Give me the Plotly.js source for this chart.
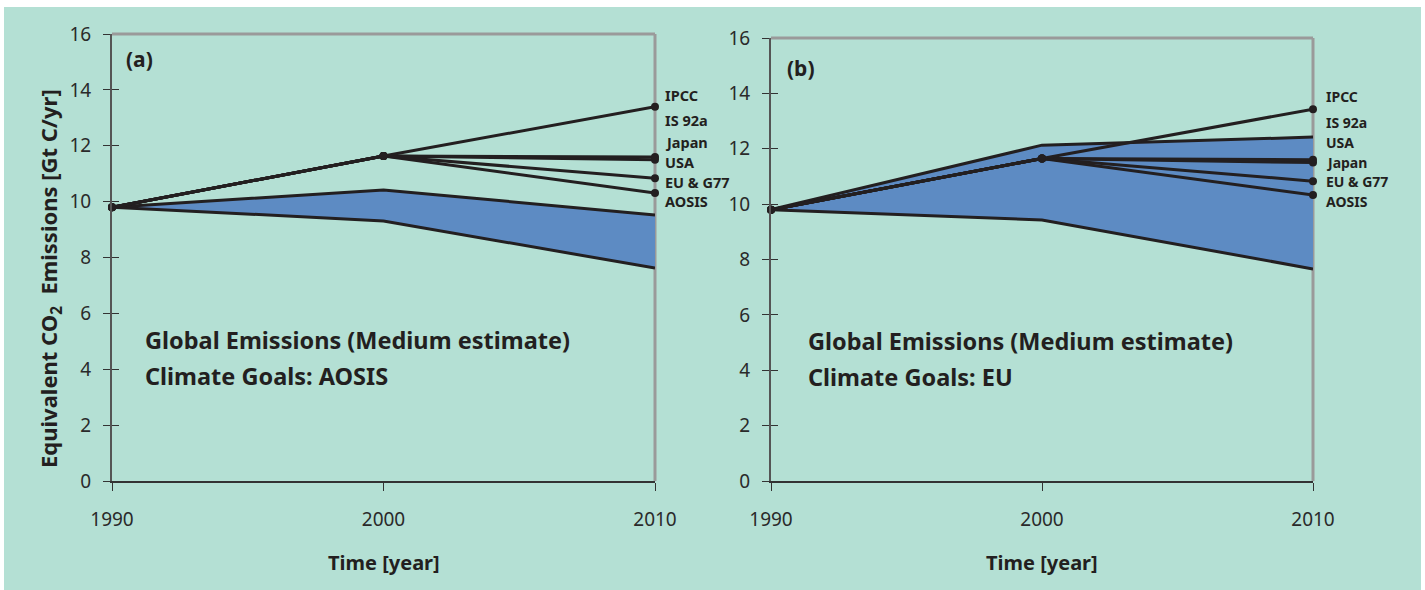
<!DOCTYPE html>
<html><head><meta charset="utf-8">
<script src="https://cdn.plot.ly/plotly-3.0.1.min.js"></script>
<style>html,body{margin:0;padding:0;background:#fff}#chart{width:1425px;height:590px}</style>
</head><body><div id="chart"></div>
<script>
// ---- data ----
const years = [1990, 2000, 2010];
const xTickLabels = ['1990', '2000', '2010'];
const yTickVals = [0, 2, 4, 6, 8, 10, 12, 14, 16];

// Panel (a): Climate goals AOSIS
const aBandLower = [9.8, 9.31, 7.62];
const aBandUpper = [9.8, 10.42, 9.52];
const aIPCC  = [9.8, 11.63, 13.4];
const aJapan = [9.8, 11.63, 11.6];
const aUSA   = [9.8, 11.63, 11.5];
const aEU    = [9.8, 11.63, 10.84];
const aAOSIS = [9.8, 11.63, 10.31];
const aLabels = ['IPCC', 'IS 92a', 'Japan', 'USA', 'EU &amp; G77', 'AOSIS'];

// Panel (b): Climate goals EU
const bBandLower = [9.8, 9.43, 7.66];
const bBandUpper = [9.8, 12.13, 12.42];
const bIPCC  = [9.8, 11.65, 13.43];
const bUSA   = [9.8, 11.65, 11.6];
const bJapan = [9.8, 11.65, 11.5];
const bEU    = [9.8, 11.65, 10.83];
const bAOSIS = [9.8, 11.65, 10.33];
const bLabels = ['IPCC', 'IS 92a', 'USA', 'Japan', 'EU &amp; G77', 'AOSIS'];

// ---- styles / layout positions ----
const BG = '#b4e0d4', FILL = '#5d8bc3', INK = '#231f20';
const BOLD = 'Noto Sans, DejaVu Sans, sans-serif';
const NUM = 'Noto Sans, DejaVu Sans, sans-serif';
const aLabelY = [13.82, 12.92, 12.14, 11.42, 10.72, 10.04];
const bLabelY = [13.87, 12.96, 12.22, 11.52, 10.80, 10.10];

function band(lo, hi, xa, ya) {
  return [
    {x: years, y: lo, xaxis: xa, yaxis: ya, mode: 'lines', line: {color: INK, width: 3}, hoverinfo: 'skip', showlegend: false},
    {x: years, y: hi, xaxis: xa, yaxis: ya, mode: 'lines', fill: 'tonexty', fillcolor: FILL, line: {color: INK, width: 3}, hoverinfo: 'skip', showlegend: false}
  ];
}
function goal(vals, xa, ya) {
  return {x: years, y: vals, xaxis: xa, yaxis: ya, mode: 'lines+markers', cliponaxis: false,
    line: {color: INK, width: 3}, marker: {color: INK, size: 8}, showlegend: false};
}

const traces = [
  ...band(aBandLower, aBandUpper, 'x', 'y'),
  goal(aAOSIS, 'x', 'y'), goal(aEU, 'x', 'y'), goal(aUSA, 'x', 'y'), goal(aJapan, 'x', 'y'), goal(aIPCC, 'x', 'y'),
  ...band(bBandLower, bBandUpper, 'x2', 'y2'),
  goal(bAOSIS, 'x2', 'y2'), goal(bEU, 'x2', 'y2'), goal(bJapan, 'x2', 'y2'), goal(bUSA, 'x2', 'y2'), goal(bIPCC, 'x2', 'y2'),
  {x: [], y: [], xaxis: 'x', yaxis: 'y3', showlegend: false},
  {x: [], y: [], xaxis: 'x2', yaxis: 'y4', showlegend: false}
];

const W = 1425, H = 590;
const xdomA = [112 / W, 655 / W], xdomB = [771 / W, 1313 / W];
const ydomA = [1 - 481 / H, 1 - 34 / H], ydomB = [1 - 481 / H, 1 - 38 / H];

function xaxis(dom, anchor) {
  return {domain: dom, anchor: anchor, range: [1990, 2010], tickvals: years, ticktext: xTickLabels,
    ticks: 'outside', ticklen: 8, tickwidth: 1, tickcolor: '#333', showgrid: false, zeroline: false,
    showline: true, linecolor: '#333', linewidth: 2, ticklabelstandoff: 12,
    tickfont: {family: NUM, size: 19, color: '#2a2a2a'}};
}
function yaxis(dom, anchor) {
  return {domain: dom, anchor: anchor, range: [0, 16], tickvals: yTickVals,
    ticks: 'outside', ticklen: 7, tickwidth: 1, tickcolor: '#333', showgrid: false, zeroline: false,
    showline: true, linecolor: '#555', linewidth: 2, ticklabelstandoff: 8,
    tickfont: {family: NUM, size: 19, color: '#2a2a2a'}};
}
function yinner(over, anchor) {
  return {overlaying: over, anchor: anchor, range: [0, 16], tickvals: yTickVals, ticks: 'inside', ticklen: 7,
    tickwidth: 1, tickcolor: '#333', showticklabels: false, showgrid: false, zeroline: false, showline: false};
}

const annotations = [];
aLabels.forEach((t, i) => annotations.push({xref: 'x', yref: 'y', x: 2010, y: aLabelY[i], text: '<b>' + t + '</b>',
  xanchor: 'left', xshift: 9, borderpad: 0, showarrow: false, font: {family: BOLD, size: 14.5, color: INK}}));
bLabels.forEach((t, i) => annotations.push({xref: 'x2', yref: 'y2', x: 2010, y: bLabelY[i], text: '<b>' + t + '</b>',
  xanchor: 'left', xshift: 12, borderpad: 0, showarrow: false, font: {family: BOLD, size: 14, color: INK}}));
const boldTxt = (xref, yref, x, y, text, size) => ({xref, yref, x, y, text: '<b>' + text + '</b>', showarrow: false,
  xanchor: 'left', yanchor: 'middle', font: {family: BOLD, size: size, color: INK}});
annotations.push(boldTxt('x domain', 'y domain', 0.022, 0.943, '(a)', 21));
annotations.push(boldTxt('x2 domain', 'y2 domain', 0.026, 0.932, '(b)', 21));
annotations.push(boldTxt('x domain', 'y domain', 0.057, 0.315, 'Global Emissions (Medium estimate)', 23.5));
annotations.push(boldTxt('x domain', 'y domain', 0.057, 0.234, 'Climate Goals: AOSIS', 23.5));
annotations.push(boldTxt('x2 domain', 'y2 domain', 0.064, 0.317, 'Global Emissions (Medium estimate)', 23.5));
annotations.push(boldTxt('x2 domain', 'y2 domain', 0.064, 0.234, 'Climate Goals: EU', 23.5));
annotations.push({xref: 'x domain', yref: 'paper', x: 0.5, y: 1 - 562 / H, text: '<b>Time [year]</b>', showarrow: false,
  yanchor: 'middle', font: {family: BOLD, size: 20, color: INK}});
annotations.push({xref: 'x2 domain', yref: 'paper', x: 0.5, y: 1 - 562 / H, text: '<b>Time [year]</b>', showarrow: false,
  yanchor: 'middle', font: {family: BOLD, size: 20, color: INK}});
annotations.push({xref: 'paper', yref: 'paper', x: 50 / W, y: 1 - 279 / H, textangle: -90,
  text: '<b>Equivalent CO<sub>2</sub>  Emissions [Gt C/yr]</b>', showarrow: false, xanchor: 'center', yanchor: 'middle',
  font: {family: BOLD, size: 22, color: INK}});

const gray = {color: '#9a9a9a', width: 3};
const shapes = [
  {type: 'rect', xref: 'paper', yref: 'paper', x0: 4 / W, x1: 1421 / W, y0: 0, y1: 1 - 7 / H, fillcolor: BG, line: {width: 0}, layer: 'below'},
  {type: 'line', xref: 'x domain', yref: 'y domain', x0: 0, x1: 1, y0: 1, y1: 1, line: gray},
  {type: 'line', xref: 'x domain', yref: 'y domain', x0: 1, x1: 1, y0: 0, y1: 1, line: gray, layer: 'below'},
  {type: 'line', xref: 'x2 domain', yref: 'y2 domain', x0: 0, x1: 1, y0: 1, y1: 1, line: gray},
  {type: 'line', xref: 'x2 domain', yref: 'y2 domain', x0: 1, x1: 1, y0: 0, y1: 1, line: gray, layer: 'below'}
];

const layout = {
  width: W, height: H, margin: {l: 0, r: 0, t: 0, b: 0},
  paper_bgcolor: '#ffffff', plot_bgcolor: 'rgba(0,0,0,0)', showlegend: false,
  xaxis: xaxis(xdomA, 'y'), yaxis: yaxis(ydomA, 'x'),
  xaxis2: xaxis(xdomB, 'y2'), yaxis2: yaxis(ydomB, 'x2'),
  yaxis3: yinner('y', 'x'), yaxis4: yinner('y2', 'x2'),
  annotations: annotations, shapes: shapes
};
layout.yaxis3.domain = ydomA; layout.yaxis4.domain = ydomB;

Plotly.newPlot('chart', traces, layout, {displayModeBar: false, staticPlot: true});
</script></body></html>
